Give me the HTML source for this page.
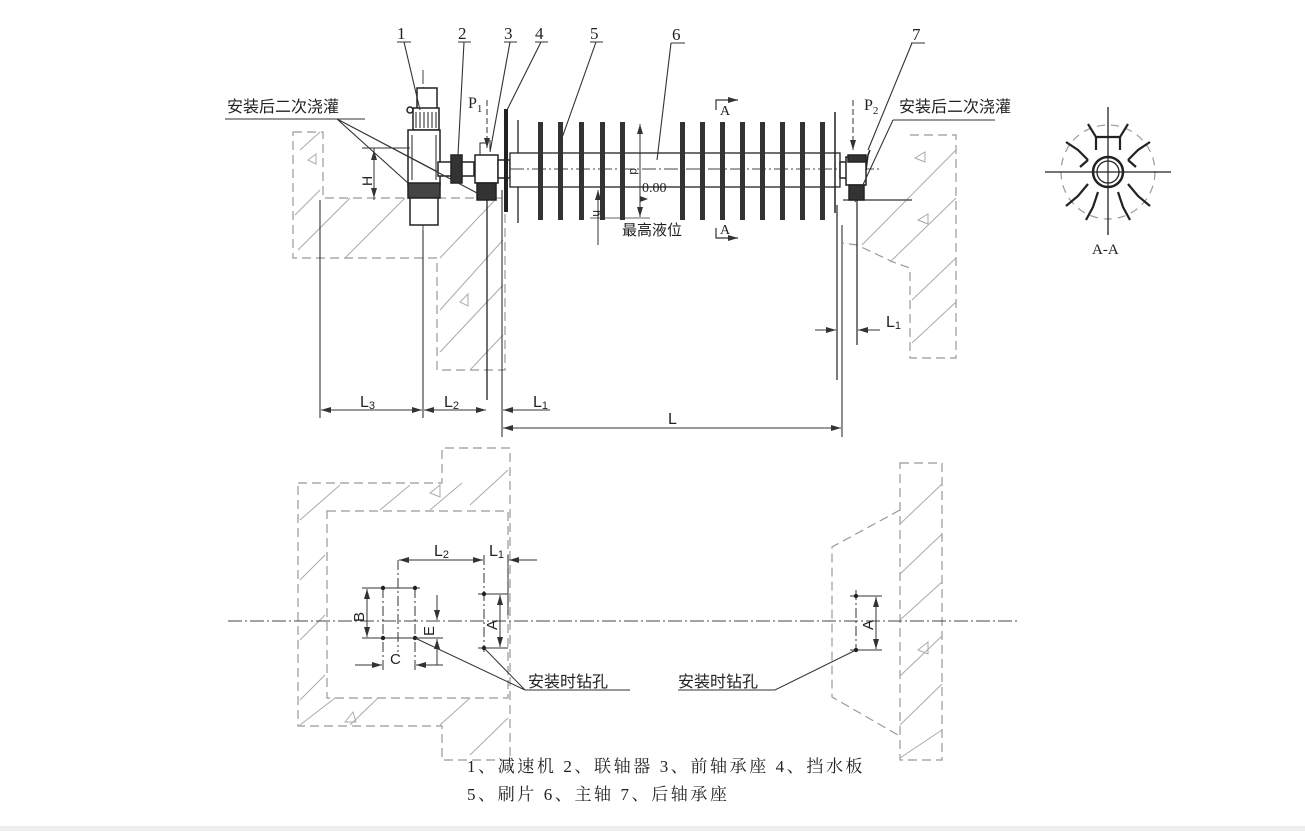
<!DOCTYPE html>
<html><head><meta charset="utf-8"><style>
html,body{margin:0;padding:0;background:#fff;}
svg{display:block;}
text{font-family:"Liberation Sans","Noto Sans CJK SC",sans-serif;fill:#222;}
.s{font-family:"Liberation Serif","Noto Serif CJK SC",serif;}
</style></head><body>
<svg width="1305" height="831" viewBox="0 0 1305 831" xmlns="http://www.w3.org/2000/svg">
<defs>
<marker id="ar" viewBox="0 0 10 6" refX="10" refY="3" markerWidth="10" markerHeight="6" orient="auto-start-reverse" markerUnits="userSpaceOnUse"><path d="M0,0 L10,3 L0,6 z" fill="#333"/></marker>
</defs>
<rect width="1305" height="831" fill="#fff"/>
<rect x="0" y="826" width="1305" height="5" fill="#eee"/>

<g stroke="#999" stroke-width="1.2" fill="none" stroke-dasharray="9,5">
<path d="M293,132 H323 V198 H505 V370 H437 V258 H293 Z"/>
<path d="M910,135 H956 V358 H910 V268 L893,262 L857,245 L843,243"/>
</g>
<g stroke="#aaa" stroke-width="1" fill="none">
<path d="M295,215 L320,190 M298,250 L350,198 M345,258 L405,198 M440,258 L495,200 M440,310 L503,240 M440,352 L503,285 M470,370 L503,335"/>
<path d="M300,150 L320,132 M308,160 l8,-6 l0,10 z"/>
<path d="M460,302 l8,-8 l0,12 z"/>
<path d="M862,245 L956,150 M890,262 L956,198 M912,300 L956,258 M912,343 L956,302"/>
<path d="M915,158 l10,-6 l0,10 z M918,220 l10,-6 l0,10 z"/>
</g>
<line x1="843" y1="200" x2="912" y2="200" stroke="#333" stroke-width="1.2"/>

<g stroke="#444" stroke-width="1" stroke-dasharray="14,3,2,3" fill="none">
<line x1="442" y1="169" x2="880" y2="169"/>
<line x1="423" y1="70" x2="423" y2="230"/>
</g>

<g stroke="#222" stroke-width="1.5" fill="none">
<rect x="417" y="88" width="20" height="22" fill="#fff"/>
<rect x="413" y="108" width="26" height="22" fill="#fff"/>
<path d="M416,112 v16 M420,112 v16 M424,112 v16 M428,112 v16 M432,112 v16 M436,112 v16" stroke-width="1"/>
<rect x="408" y="130" width="32" height="55" fill="#fff"/>
<path d="M412,135 v45 M436,135 v45" stroke-width="1"/>
<rect x="408" y="183" width="32" height="15" fill="#444"/>
<rect x="410" y="198" width="28" height="27" fill="#fff"/>
<circle cx="410" cy="110" r="3"/>
</g>
<g stroke="#222" stroke-width="1.5">
<rect x="438" y="162" width="36" height="14" fill="#fff"/>
<rect x="451" y="155" width="11" height="28" fill="#333"/>
<rect x="475" y="155" width="23" height="28" fill="#fff"/>
<rect x="477" y="183" width="19" height="17" fill="#333"/>
<path d="M480,155 v-12 h8 M490,150 v-10" fill="none" stroke-width="1"/>
<rect x="498" y="160" width="12" height="18" fill="#fff"/>
</g>
<line x1="487" y1="200" x2="487" y2="400" stroke="#222" stroke-width="1.3"/>
<rect x="504" y="109" width="4" height="103" fill="#222"/>
<line x1="518" y1="120" x2="518" y2="223" stroke="#222" stroke-width="1.3"/>
<rect x="510" y="153" width="330" height="34" fill="#fff" stroke="#222" stroke-width="1.3"/>
<line x1="510" y1="169" x2="840" y2="169" stroke="#444" stroke-width="1" stroke-dasharray="14,3,2,3"/>
<g fill="#333">
<rect x="538" y="122" width="5" height="98"/><rect x="558" y="122" width="5" height="98"/>
<rect x="579" y="122" width="5" height="98"/><rect x="600" y="122" width="5" height="98"/>
<rect x="620" y="122" width="5" height="98"/>
<rect x="680" y="122" width="5" height="98"/><rect x="700" y="122" width="5" height="98"/>
<rect x="720" y="122" width="5" height="98"/><rect x="740" y="122" width="5" height="98"/>
<rect x="760" y="122" width="5" height="98"/><rect x="780" y="122" width="5" height="98"/>
<rect x="800" y="122" width="5" height="98"/><rect x="820" y="122" width="5" height="98"/>
</g>
<line x1="835" y1="112" x2="835" y2="213" stroke="#222" stroke-width="1.5"/>
<g stroke="#222" stroke-width="1.5">
<rect x="840" y="162" width="8" height="16" fill="#fff"/>
<rect x="846" y="157" width="20" height="28" fill="#fff"/>
<rect x="848" y="155" width="18" height="7" fill="#333"/>
<rect x="849" y="185" width="15" height="15" fill="#333"/>
<path d="M866,170 L868,155 L870,150" fill="none"/>
</g>
<line x1="837" y1="205" x2="837" y2="380" stroke="#222" stroke-width="1.2"/>
<line x1="857" y1="200" x2="857" y2="345" stroke="#222" stroke-width="1.2"/>

<g stroke="#333" stroke-width="1.1" fill="none">
<path d="M397,42 H411 M404,42 L420,110"/>
<path d="M458,42 H471 M464,42 L458,155"/>
<path d="M504,42 H517 M510,42 L490,152"/>
<path d="M535,42 H548 M541,42 L507,110"/>
<path d="M590,42 H603 M596,42 L562,138"/>
<path d="M671,43 H685 M671,43 L657,160"/>
<path d="M911,43 H925 M912,43 L868,150"/>
<path d="M225,119 H365 M337,119 L408,183 M337,119 L438,172 M337,119 L477,193"/>
<path d="M893,120 H995 M893,120 L855,202"/>
</g>
<g class="s" font-size="17">
<text x="397" y="39" class="s">1</text><text x="458" y="39" class="s">2</text>
<text x="504" y="39" class="s">3</text><text x="535" y="39" class="s">4</text>
<text x="590" y="39" class="s">5</text><text x="672" y="40" class="s">6</text>
<text x="912" y="40" class="s">7</text>
</g>
<text x="227" y="112" font-size="16">安装后二次浇灌</text>
<text x="899" y="112" font-size="16">安装后二次浇灌</text>
<line x1="487" y1="100" x2="487" y2="148" stroke="#333" stroke-width="1" stroke-dasharray="6,3" marker-end="url(#ar)"/>
<text x="468" y="108" class="s" font-size="16">P<tspan font-size="11" dy="4">1</tspan></text>
<line x1="853" y1="100" x2="853" y2="150" stroke="#333" stroke-width="1" stroke-dasharray="6,3" marker-end="url(#ar)"/>
<text x="864" y="110" class="s" font-size="16">P<tspan font-size="11" dy="4">2</tspan></text>
<line x1="362" y1="148" x2="410" y2="148" stroke="#333" stroke-width="0.9"/>
<line x1="374" y1="200" x2="374" y2="150" stroke="#333" stroke-width="1" marker-end="url(#ar)"/>
<line x1="374" y1="148" x2="374" y2="198" stroke="#333" stroke-width="1" marker-end="url(#ar)"/>
<text x="0" y="0" font-size="14" transform="translate(372,186) rotate(-90)">H</text>
<path d="M716,110 V100 H738" stroke="#333" fill="none" stroke-width="1.2" marker-end="url(#ar)"/>
<text x="720" y="115" class="s" font-size="14">A</text>
<path d="M716,228 V238 H738" stroke="#333" fill="none" stroke-width="1.2" marker-end="url(#ar)"/>
<text x="720" y="234" class="s" font-size="14">A</text>
<line x1="640" y1="124" x2="640" y2="217" stroke="#333" stroke-width="1" marker-start="url(#ar)" marker-end="url(#ar)"/>
<text x="630" y="176" font-size="12" transform="rotate(90 634 172)">d</text>
<line x1="598" y1="190" x2="598" y2="245" stroke="#333" stroke-width="1" marker-start="url(#ar)"/>
<text x="0" y="0" font-size="12" transform="translate(593,210) rotate(90)">h</text>
<line x1="590" y1="218" x2="650" y2="218" stroke="#333" stroke-width="0.8"/>
<text x="642" y="192" class="s" font-size="14">0.00</text>
<path d="M640,196 l8,3 l-8,3 z" fill="#333"/>
<text x="622" y="235" font-size="15">最高液位</text>

<g stroke="#333" stroke-width="1.1">
<line x1="320" y1="200" x2="320" y2="418"/>
<line x1="423" y1="230" x2="423" y2="418"/>
<line x1="502" y1="190" x2="502" y2="437"/>
<line x1="842" y1="225" x2="842" y2="437"/>
</g>
<g stroke="#333" stroke-width="1" fill="none">
<line x1="321" y1="410" x2="422" y2="410" marker-start="url(#ar)" marker-end="url(#ar)"/>
<line x1="424" y1="410" x2="486" y2="410" marker-start="url(#ar)" marker-end="url(#ar)"/>
<line x1="550" y1="410" x2="503" y2="410" marker-end="url(#ar)"/>
<line x1="503" y1="428" x2="841" y2="428" marker-start="url(#ar)" marker-end="url(#ar)"/>
<line x1="815" y1="330" x2="836" y2="330" marker-end="url(#ar)"/>
<line x1="880" y1="330" x2="858" y2="330" marker-end="url(#ar)"/>
</g>
<text x="360" y="407" font-size="16">L<tspan font-size="11" dy="2">3</tspan></text>
<text x="444" y="407" font-size="16">L<tspan font-size="11" dy="2">2</tspan></text>
<text x="533" y="407" font-size="16">L<tspan font-size="11" dy="2">1</tspan></text>
<text x="668" y="424" font-size="16">L</text>
<text x="886" y="327" font-size="16">L<tspan font-size="11" dy="2">1</tspan></text>

<g transform="translate(1108,172)">
<circle r="47" fill="none" stroke="#999" stroke-width="1.2" stroke-dasharray="8,6"/>
<line x1="-63" y1="0" x2="63" y2="0" stroke="#222" stroke-width="1.3"/>
<line x1="0" y1="-65" x2="0" y2="63" stroke="#222" stroke-width="1.3"/>
<g stroke="#222" stroke-width="2.2" fill="none">
<path d="M-12,-22 L-12,-35 L-20,-48 M12,-22 L12,-35 L20,-48 M-12,-35 H12"/>
<path d="M-20,-12 L-30,-22 L-42,-30 M-20,-12 L-28,-5"/>
<path d="M20,-12 L30,-22 L42,-30 M20,-12 L28,-5"/>
<path d="M-20,12 L-30,24 L-42,34 M20,12 L30,24 L42,34"/>
<path d="M-10,20 L-15,35 L-22,48 M10,20 L15,35 L22,48"/>
</g>
<circle r="15" fill="#fff" stroke="#222" stroke-width="2.5"/>
<circle r="11" fill="none" stroke="#222" stroke-width="1.3"/>
<line x1="-15" y1="0" x2="15" y2="0" stroke="#222" stroke-width="1.2"/>
<line x1="0" y1="-15" x2="0" y2="15" stroke="#222" stroke-width="1.2"/>
</g>
<text x="1092" y="254" class="s" font-size="15">A-A</text>

<g stroke="#999" stroke-width="1.2" fill="none" stroke-dasharray="9,5">
<path d="M298,483 H442 V448 H510 V760 H442 V726 H298 Z"/>
<path d="M327,511 H508 V698 H327 Z"/>
<path d="M900,463 H942 V760 H900 Z"/>
<path d="M900,510 L832,547 V697 L898,735"/>
</g>
<g stroke="#aaa" stroke-width="1" fill="none">
<path d="M300,520 L340,485 M380,510 L410,485 M430,510 L462,483 M470,505 L508,470 M300,580 L325,555 M300,640 L325,615 M300,700 L325,675 M300,725 L335,698 M350,725 L378,698 M440,725 L470,698 M470,755 L508,718"/>
<path d="M430,493 l10,-8 l0,12 z M345,722 l8,-10 l3,10 z"/>
<path d="M900,524 L942,484 M900,574 L942,534 M900,620 L942,582 M900,676 L942,636 M900,725 L942,684 M900,758 L942,730"/>
<path d="M918,650 l10,-8 l0,12 z"/>
</g>
<line x1="228" y1="621" x2="1020" y2="621" stroke="#444" stroke-width="1" stroke-dasharray="14,3,2,3"/>
<g stroke="#333" stroke-width="1">
<line x1="383" y1="588" x2="383" y2="670" stroke-dasharray="10,3,2,3"/>
<line x1="415" y1="588" x2="415" y2="670" stroke-dasharray="10,3,2,3"/>
<line x1="398" y1="560" x2="398" y2="652" stroke-dasharray="10,3,2,3"/>
<line x1="362" y1="588" x2="420" y2="588"/>
<line x1="362" y1="638" x2="443" y2="638"/>
<line x1="484" y1="555" x2="484" y2="652" stroke-dasharray="10,3,2,3"/>
<line x1="508" y1="555" x2="508" y2="615"/>
<line x1="478" y1="594" x2="508" y2="594"/>
<line x1="478" y1="648" x2="508" y2="648"/>
</g>
<g fill="#222"><circle cx="383" cy="588" r="2.2"/><circle cx="415" cy="588" r="2.2"/><circle cx="383" cy="638" r="2.2"/><circle cx="415" cy="638" r="2.2"/><circle cx="484" cy="594" r="2.2"/><circle cx="484" cy="648" r="2.2"/></g>
<g stroke="#333" stroke-width="1" fill="none">
<line x1="367" y1="589" x2="367" y2="637" marker-start="url(#ar)" marker-end="url(#ar)"/>
<line x1="355" y1="665" x2="382" y2="665" marker-end="url(#ar)"/>
<line x1="443" y1="665" x2="416" y2="665" marker-end="url(#ar)"/>
<line x1="437" y1="595" x2="437" y2="620" marker-end="url(#ar)"/>
<line x1="437" y1="665" x2="437" y2="639" marker-end="url(#ar)"/>
<line x1="500" y1="595" x2="500" y2="647" marker-start="url(#ar)" marker-end="url(#ar)"/>
<line x1="399" y1="560" x2="483" y2="560" marker-start="url(#ar)" marker-end="url(#ar)"/>
<line x1="537" y1="560" x2="509" y2="560" marker-end="url(#ar)"/>
<path d="M415,638 L525,690 M484,648 L525,690 M525,690 H630"/>
</g>
<text x="0" y="0" font-size="15" transform="translate(364,622) rotate(-90)">B</text>
<text x="390" y="664" font-size="15">C</text>
<text x="0" y="0" font-size="15" transform="translate(434,636) rotate(-90)">E</text>
<text x="0" y="0" font-size="15" transform="translate(497,630) rotate(-90)">A</text>
<text x="434" y="556" font-size="16">L<tspan font-size="11" dy="2">2</tspan></text>
<text x="489" y="556" font-size="16">L<tspan font-size="11" dy="2">1</tspan></text>
<text x="528" y="687" font-size="16">安装时钻孔</text>
<g stroke="#333" stroke-width="1" fill="none">
<line x1="856" y1="590" x2="856" y2="652" stroke-dasharray="10,3,2,3"/>
<line x1="850" y1="596" x2="882" y2="596"/>
<line x1="850" y1="650" x2="882" y2="650"/>
<line x1="876" y1="597" x2="876" y2="649" marker-start="url(#ar)" marker-end="url(#ar)"/>
<path d="M856,650 L775,690 H678"/>
</g>
<g fill="#222"><circle cx="856" cy="596" r="2.2"/><circle cx="856" cy="650" r="2.2"/></g>
<text x="0" y="0" font-size="15" transform="translate(873,630) rotate(-90)">A</text>
<text x="678" y="687" font-size="16">安装时钻孔</text>

<text x="467" y="772" class="s" font-size="17" letter-spacing="2.6">1、减速机 2、联轴器 3、前轴承座 4、挡水板</text>
<text x="467" y="800" class="s" font-size="17" letter-spacing="2.6">5、刷片 6、主轴 7、后轴承座</text>
</svg>
</body></html>
